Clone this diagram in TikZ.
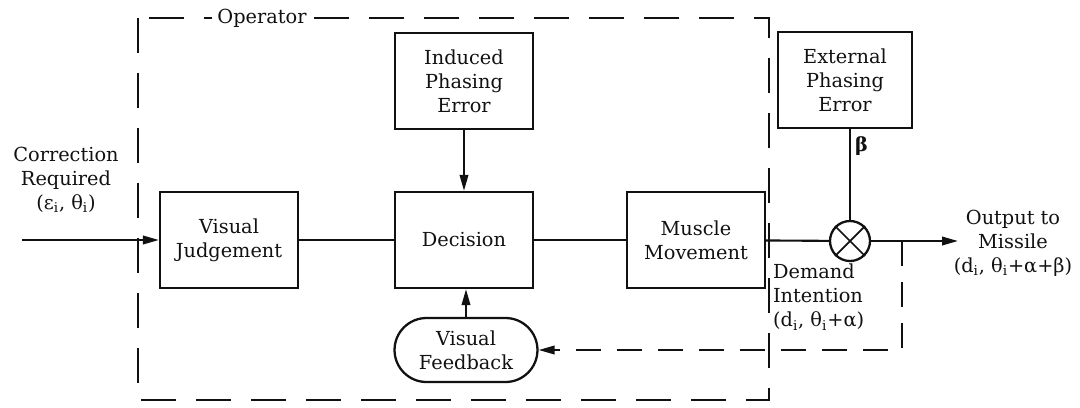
\documentclass[tikz,border=0pt]{standalone}
\usepackage{fontspec}
\setmainfont{DejaVu Serif}
\usetikzlibrary{arrows.meta,positioning,shapes.misc,shapes.geometric}
\definecolor{ink}{HTML}{111111}
\tikzset{
  >={Triangle[length=3.2mm,width=1.7mm]},
  every node/.style={font=\fontsize{11}{13.7}\selectfont,text=ink},
  block/.style={draw=ink,line width=1.3pt,minimum width=2.76cm,minimum height=1.92cm,align=center,inner sep=2pt},
  loopbox/.style={draw=ink,line width=1.3pt,rounded rectangle,minimum width=3cm,minimum height=1.28cm,align=center,inner sep=2pt},
  junction/.style={draw=ink,line width=1.3pt,circle,minimum size=0.8cm,inner sep=0pt},
  sig/.style={line width=1.2pt,draw=ink},
  sigarr/.style={sig,->},
  fbarr/.style={sigarr,dash pattern=on 5mm off 3.2mm},
  frame/.style={draw=ink,line width=1.2pt,dash pattern=on 7mm off 4mm},
  tag/.style={align=center,inner sep=1pt},
}

\begin{document}
\begin{tikzpicture}[x=0.02cm,y=-0.02cm]
\useasboundingbox (0,0) rectangle (1080,407);
% operator boundary
\draw[frame] (138,18) rectangle (769,400);
\node[fill=white,inner xsep=3pt,inner ysep=1pt] (oplabel) at (262,18) {Operator};

% blocks
\node[block] (judge) at (229,240) {Visual\\Judgement};
\node[block] (decide) at (464,240) {Decision};
\node[block] (induced) at (464,81) {Induced\\Phasing\\Error};
\node[block] (muscle) at (696,240) {Muscle\\Movement};
\node[block,minimum width=2.68cm] (external) at (845,80) {External\\Phasing\\Error};
\node[loopbox] (feedback) at (466,350) {Visual\\Feedback};
\node[junction] (sum) at (850,241) {};
\draw[sig,line width=1pt] (sum.north east) -- (sum.south west) (sum.north west) -- (sum.south east);

% free ends
\coordinate (in) at (22,240);
\coordinate (out) at (958,241);
\coordinate (tap) at (902,241);

% connectors
\draw[sigarr] (in) -- (judge);
\draw[sig] (judge) -- (decide);
\draw[sig] (decide) -- (muscle);
\draw[sig] (muscle) -- (sum);
\draw[sigarr] (induced) -- (decide);
\draw[sigarr] (feedback.north) -- (feedback.north |- decide.south);
\draw[sig] (external.south -| sum.north) -- (sum);
\draw[sigarr] (sum) -- (out);
\draw[fbarr] (tap) |- (feedback.east);

% labels
\node[tag] (corr) at (66,180) {Correction\\Required\\(ε\textsubscript{i}, θ\textsubscript{i})};
\node[tag,anchor=west] (beta) at (853,146) {\textbf{β}};
\node[tag,anchor=north west,align=left] (demand) at (771,262) {Demand\\Intention\\(d\textsubscript{i}, θ\textsubscript{i}+α)};
\node[tag] (output) at (1013,243) {Output to\\Missile\\(d\textsubscript{i}, θ\textsubscript{i}+α+β)};
\end{tikzpicture}
\end{document}
